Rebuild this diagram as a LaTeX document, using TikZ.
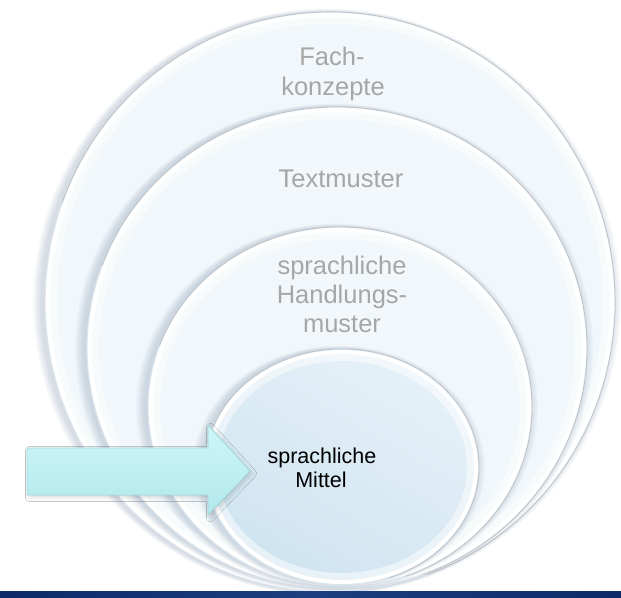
\documentclass[tikz,border=0pt]{standalone}
\usepackage{fontspec}
\setmainfont{Liberation Sans}
\usetikzlibrary{shadows.blur}

\definecolor{discfill}{HTML}{F1F7FA}
\definecolor{discline}{HTML}{BFC4C9}
\definecolor{discsoft}{HTML}{DCE3EA}
\definecolor{discshade}{HTML}{6F87A8}
\definecolor{corelo}{HTML}{CFE4F0}
\definecolor{corehi}{HTML}{E6F1F8}
\definecolor{arrowhi}{HTML}{CCF6F8}
\definecolor{arrowlo}{HTML}{B3E8EC}
\definecolor{arrowline}{HTML}{A2D6DB}
\definecolor{labelgrey}{HTML}{A6A6A6}
\definecolor{navy}{HTML}{0E2A68}
\definecolor{navymid}{HTML}{1B3F80}

\tikzset{
  greylabel/.style={text=labelgrey, font=\fontsize{25.5}{30}\selectfont,
      anchor=base, inner sep=0pt},
  corelabel/.style={text=black, font=\fontsize{21.5}{25}\selectfont,
      anchor=base, inner sep=0pt},
}

% one disc of the nested target: name, centre x, centre y, x radius, y radius, fill
\newcommand\nestdisc[6]{%
  \coordinate (#1) at (#2,#3);
  % soft shadow cast towards the left
  \foreach \k in {1,...,9}{
    \fill[discshade, opacity=.03] ([xshift=-3pt]#1) ellipse [x radius=#4+\k, y radius=#5+0.35*\k];
  }
  \path[#6] (#1) ellipse [x radius=#4, y radius=#5];
  \draw[white, line width=10pt, opacity=.5] (#1) ellipse [x radius=#4-7, y radius=#5-7];
  \draw[white, line width=4pt] (#1) ellipse [x radius=#4-3, y radius=#5-3];
  % soft rim on the lower left, crisp rim over the top and right
  \draw[discsoft, line width=0.8pt] (#1) ++(70:#4 and #5)
    arc [start angle=70, end angle=200, x radius=#4, y radius=#5];
  \draw[discline, line width=0.9pt] (#1) ++(200:#4 and #5)
    arc [start angle=200, end angle=430, x radius=#4, y radius=#5];
}

\begin{document}
\begin{tikzpicture}[x=1pt, y=-1pt]
  \fill[white] (0,0) rectangle (621,597);
  \useasboundingbox (0,0) rectangle (621,597);

  % nested discs, outermost first
  \nestdisc{fach}{330}{302}{285}{290}{fill=discfill}
  \nestdisc{textmuster}{337}{348}{250}{241}{fill=discfill}
  \nestdisc{handlung}{340}{407}{192}{180}{fill=discfill}
  \nestdisc{mittel}{342}{467}{137}{118}{top color=corehi, bottom color=corelo, shading angle=-30}

  % labels
  \node[greylabel] (fachA) at (332,65.7) {Fach-};
  \node[greylabel] (fachB) at (333,95) {konzepte};
  \node[greylabel] (textm) at (341,187) {Textmuster};
  \node[greylabel] (handA) at (342,274) {sprachliche};
  \node[greylabel] (handB) at (342,303) {Handlungs-};
  \node[greylabel] (handC) at (342,332) {muster};
  \node[corelabel] (mittA) at (322,463) {sprachliche};
  \node[corelabel] (mittB) at (321,487) {Mittel};

  % block arrow pointing into the core
  \path[blur shadow={shadow xshift=2.5pt, shadow yshift=-2.5pt, shadow blur radius=4pt, shadow opacity=14},
        top color=arrowhi, bottom color=arrowlo, draw=arrowline, line width=0.8pt]
    (27,448) -- (208,448) -- (208,425) -- (250,471) -- (208,515) -- (208,495) -- (27,495) -- cycle;

  % footer rule
  \shade[left color=navy, right color=navy, middle color=navymid] (0,591.5) rectangle (621,597);
\end{tikzpicture}
\end{document}
